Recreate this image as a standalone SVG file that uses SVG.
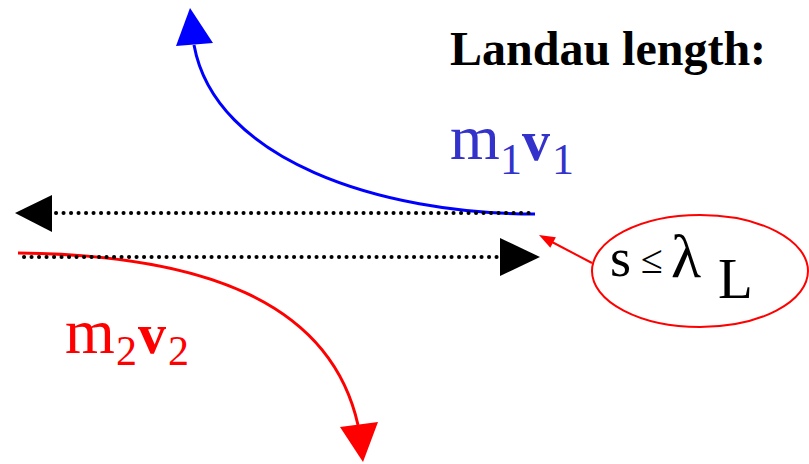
<svg xmlns="http://www.w3.org/2000/svg" width="809" height="464" viewBox="0 0 809 464">
<style>
.serif{font-family:"Liberation Serif","Times New Roman",serif}
.dot{stroke:#000;stroke-width:4;stroke-linecap:round;stroke-dasharray:0.1 7.4;fill:none}
.blue{fill:#3333cc}
.red{fill:#ff0000}
</style>
<rect width="809" height="464" fill="#fff"/>
<g id="title">
<text class="serif" x="450" y="65" font-size="48" font-weight="bold" fill="#000">Landau length:</text>
</g>
<g id="m1v1" class="serif blue">
<text x="450" y="159" font-size="64">m</text>
<text x="500" y="174" font-size="44">1</text>
<text x="522" y="160" font-size="56" font-weight="bold">v</text>
<text x="552" y="174" font-size="44">1</text>
</g>
<g id="m2v2" class="serif red">
<text x="65" y="353" font-size="64">m</text>
<text x="116" y="365" font-size="42">2</text>
<text x="138" y="353" font-size="56" font-weight="bold">v</text>
<text x="168" y="365" font-size="42">2</text>
</g>
<g id="landau">
<ellipse cx="700" cy="271" rx="108" ry="56" fill="none" stroke="#ff0000" stroke-width="2"/>
<text class="serif" x="610" y="276" font-size="54" fill="#000">s</text>
<text class="serif" x="641" y="273" font-size="40" fill="#000">≤</text>
<text class="serif" x="671" y="277" font-size="62" fill="#000">λ</text>
<text class="serif" x="718" y="298" font-size="57" fill="#000">L</text>
</g>
<g id="connectors">
<path d="M535,214 C380,214 215,160 194,45" fill="none" stroke="#0000ff" stroke-width="3"/>
<polygon points="190,8 176,46 213,43" fill="#0000ff"/>
<path d="M18,253 C200,255 330,300 358,425" fill="none" stroke="#ff0000" stroke-width="3"/>
<polygon points="363,462 340,427 378,422" fill="#ff0000"/>
<line class="dot" x1="56" y1="213" x2="535" y2="213"/>
<polygon points="15,213 52,195 52,232" fill="#000"/>
<line class="dot" x1="24" y1="257" x2="498" y2="257"/>
<polygon points="540,257 500,238 500,276" fill="#000"/>
<line x1="592" y1="263" x2="552" y2="242" stroke="#ff0000" stroke-width="2"/>
<polygon points="539,235 555.9,237.2 550.3,247.8" fill="#ff0000"/>
</g>
</svg>
